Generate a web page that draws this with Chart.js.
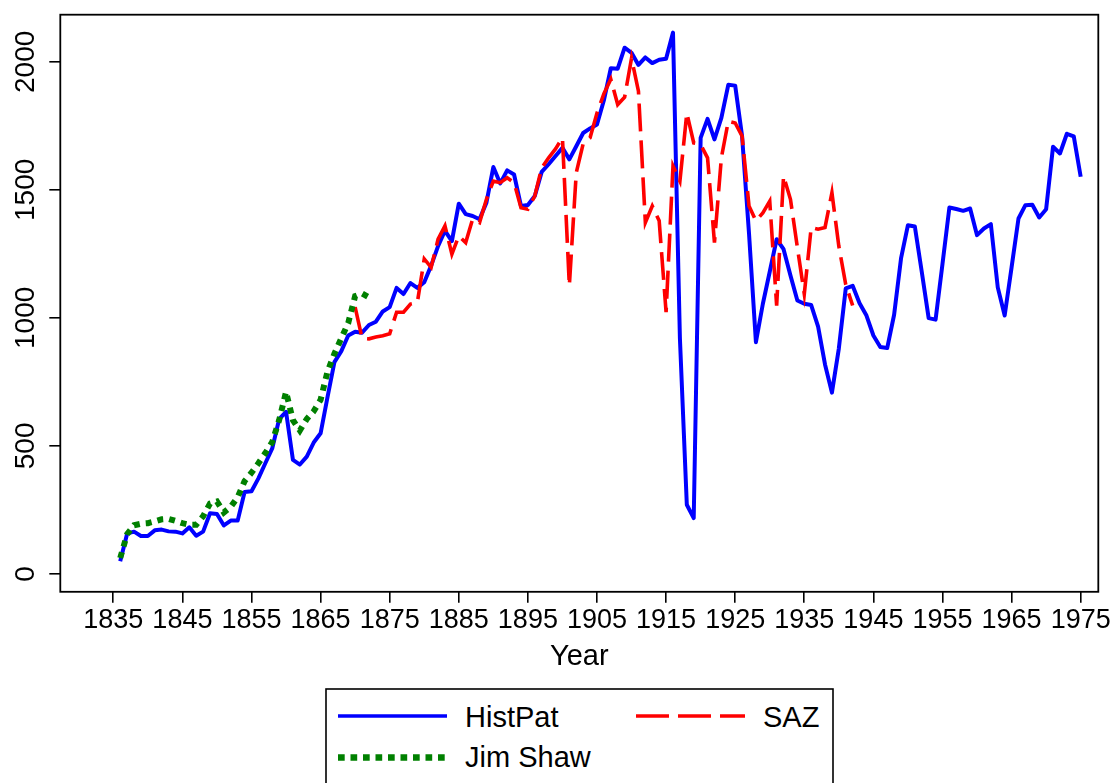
<!DOCTYPE html>
<html><head><meta charset="utf-8">
<script src="https://cdn.jsdelivr.net/npm/chart.js@4.4.1/dist/chart.umd.min.js"></script>
<style>
html,body{margin:0;padding:0;background:#fff;overflow:hidden;}
#wrap{position:relative;width:1117px;height:783px;}
canvas{position:absolute;left:0;top:0;}
#leg{position:absolute;left:0;top:0;}
</style></head><body>
<div id="wrap"><canvas id="c" width="1117" height="783"></canvas>
<svg id="leg" width="1117" height="783" xmlns="http://www.w3.org/2000/svg"></svg></div>
<script>
const years = [1836,1837,1838,1839,1840,1841,1842,1843,1844,1845,
1846,1847,1848,1849,1850,1851,1852,1853,1854,1855,
1856,1857,1858,1859,1860,1861,1862,1863,1864,1865,
1866,1867,1868,1869,1870,1871,1872,1873,1874,1875,
1876,1877,1878,1879,1880,1881,1882,1883,1884,1885,
1886,1887,1888,1889,1890,1891,1892,1893,1894,1895,
1896,1897,1898,1899,1900,1901,1902,1903,1904,1905,
1906,1907,1908,1909,1910,1911,1912,1913,1914,1915,
1916,1917,1918,1919,1920,1921,1922,1923,1924,1925,
1926,1927,1928,1929,1930,1931,1932,1933,1934,1935,
1936,1937,1938,1939,1940,1941,1942,1943,1944,1945,
1946,1947,1948,1949,1950,1951,1952,1953,1954,1955,
1956,1957,1958,1959,1960,1961,1962,1963,1964,1965,
1966,1967,1968,1969,1970,1971,1972,1973,1974,1975];

const histPat = [49,157,165,148,148,170,173,166,165,158,
182,149,165,237,234,189,208,208,320,323,
373,432,490,604,633,445,427,458,513,549,
690,827,870,931,946,942,972,985,1025,1042,
1117,1093,1136,1117,1139,1204,1280,1340,1300,1446,
1405,1398,1385,1450,1589,1525,1576,1560,1437,1441,
1476,1570,1600,1632,1664,1619,1670,1722,1740,1755,
1850,1975,1973,2055,2035,1988,2017,1995,2008,2012,
2114,920,270,218,1703,1777,1697,1781,1910,1907,
1709,1330,905,1054,1180,1307,1268,1165,1068,1055,
1050,966,818,708,880,1115,1125,1057,1009,931,
886,882,1012,1232,1362,1357,1180,999,993,1210,
1431,1425,1418,1427,1323,1349,1366,1119,1009,1197,
1388,1440,1442,1392,1424,1668,1642,1719,1709,1551];

const shawYears = years.slice(0, 37);   // 1836-1872
const jimShaw = [62,155,190,196,198,205,213,215,207,198,
192,192,225,275,283,240,262,300,362,395,
432,472,515,600,711,600,560,605,635,680,
790,860,920,980,1085,1095,1080];

const sazYears = years.slice(34, 107);  // 1870-1942
const saz = [1042,920,918,925,930,938,1022,1022,1054,1060,
1230,1197,1307,1359,1249,1320,1294,1385,1372,1463,
1534,1528,1547,1528,1430,1424,1476,1586,1625,1660,
1703,1126,1567,1680,1703,1800,1875,1932,1833,1862,
2014,1885,1372,1437,1379,1022,1593,1534,1800,1683,
1677,1625,1294,1625,1768,1761,1710,1437,1379,1410,
1456,1048,1554,1463,1275,1093,1353,1346,1353,1489,
1280,1130,1048];

const xTicks = [1835,1845,1855,1865,1875,1885,1895,1905,1915,1925,1935,1945,1955,1965,1975];
const yTicks = [0,500,1000,1500,2000];
const seriesNames = ['HistPat','SAZ','Jim Shaw'];
const xTitle = 'Year';

const FONT = '"Liberation Sans", Arial, Helvetica, sans-serif';
const pts = (xs, ys) => xs.map((x, i) => ({x: x, y: ys[i]}));

const frame = {
  id: 'frame',
  afterDraw(chart) {
    const {ctx, chartArea: a} = chart;
    ctx.save();
    ctx.strokeStyle = '#000';
    ctx.lineWidth = 1.8;
    ctx.strokeRect(a.left, a.top, a.right - a.left, a.bottom - a.top);
    // rotated y tick labels
    const ys = chart.scales.y;
    ctx.fillStyle = '#000';
    ctx.font = '28px ' + FONT;
    ctx.textAlign = 'center';
    ctx.textBaseline = 'middle';
    yTicks.forEach(v => {
      const py = ys.getPixelForValue(v);
      ctx.save();
      ctx.translate(26, py);
      ctx.rotate(-Math.PI / 2);
      ctx.fillText(String(v), 0, 0);
      ctx.restore();
    });
    ctx.restore();
  }
};

new Chart(document.getElementById('c'), {
  type: 'line',
  data: {
    datasets: [
      {label: seriesNames[2], data: pts(shawYears, jimShaw), borderColor: '#008000',
       borderWidth: 6, borderDash: [6, 6], borderCapStyle: 'butt', pointRadius: 0, order: 0},
      {label: seriesNames[1], data: pts(sazYears, saz), borderColor: '#ff0000',
       borderWidth: 3.6, borderDash: [28, 9], borderCapStyle: 'butt', pointRadius: 0, order: 1},
      {label: seriesNames[0], data: pts(years, histPat), borderColor: '#0000ff',
       borderWidth: 4, borderJoinStyle: 'round', pointRadius: 0, order: 2}
    ]
  },
  options: {
    responsive: false,
    animation: false,
    devicePixelRatio: 1,
    layout: {padding: {left: 49.3, right: 18.7, top: 14.7, bottom: 109}},
    plugins: {legend: {display: false}, tooltip: {enabled: false}},
    elements: {line: {tension: 0}},
    scales: {
      x: {
        type: 'linear', position: 'bottom', min: 1827.33, max: 1977.55,
        afterBuildTicks: (ax) => { ax.ticks = xTicks.map(v => ({value: v})); },
        grid: {drawOnChartArea: false, drawTicks: true, tickLength: 11, color: '#000', lineWidth: 1.6},
        border: {display: false},
        ticks: {autoSkip: false, minRotation: 0, maxRotation: 0, padding: 2, color: '#000',
                font: {family: FONT, size: 27}, callback: (v) => String(v)},
        title: {display: true, text: xTitle, color: '#000', font: {family: FONT, size: 29},
                padding: {top: 0, bottom: 0}}
      },
      y: {
        type: 'linear', position: 'left', min: -70, max: 2184,
        afterBuildTicks: (ax) => { ax.ticks = yTicks.map(v => ({value: v})); },
        grid: {drawOnChartArea: false, drawTicks: true, tickLength: 11, color: '#000', lineWidth: 1.6},
        border: {display: false},
        ticks: {display: false}
      }
    }
  },
  plugins: [frame]
});

// legend (SVG overlay)
const svgNS = 'http://www.w3.org/2000/svg';
const svg = document.getElementById('leg');
function el(tag, attrs, text) {
  const e = document.createElementNS(svgNS, tag);
  for (const k in attrs) e.setAttribute(k, attrs[k]);
  if (text !== undefined) e.textContent = text;
  svg.appendChild(e);
  return e;
}
el('rect', {x: 326, y: 689, width: 507, height: 130, fill: '#fff', stroke: '#000', 'stroke-width': 1.6});
const legItems = [
  {name: seriesNames[0], color: '#0000ff', w: 3.6, dash: 'none', x: 338, tx: 465, y: 716, ty: 727},
  {name: seriesNames[1], color: '#ff0000', w: 3.4, dash: '33 9', x: 636, tx: 763, y: 716, ty: 727},
  {name: seriesNames[2], color: '#008000', w: 6.5, dash: '6.7 5.8', x: 338, tx: 465, y: 757.5, ty: 767}
];
legItems.forEach(it => {
  el('line', {x1: it.x, x2: it.x + 109, y1: it.y, y2: it.y, stroke: it.color,
              'stroke-width': it.w, 'stroke-dasharray': it.dash});
  el('text', {x: it.tx, y: it.ty, 'font-family': FONT, 'font-size': 29, fill: '#000'}, it.name);
});
</script>
</body></html>
